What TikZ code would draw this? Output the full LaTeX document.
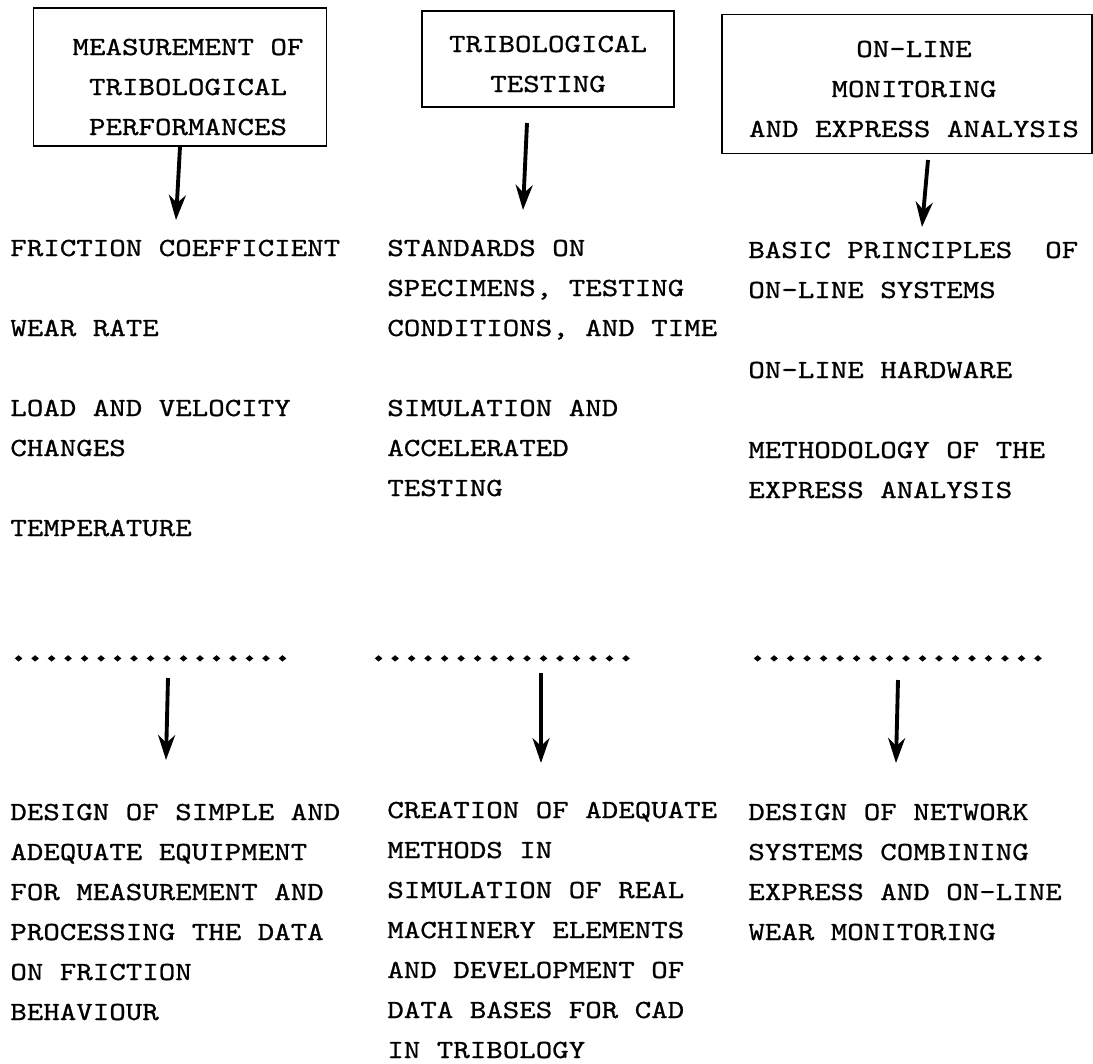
\documentclass[tikz,border=0pt]{standalone}
\usepackage{fontspec}
\usepackage{tikz}
\usetikzlibrary{arrows.meta}
\newfontfamily\typefam{lmmono10-regular.otf}[FakeStretch=1.2,FakeBold=0.8]
\newfontfamily\dotfam{lmmono10-regular.otf}[FakeStretch=1.2,FakeBold=9]
\newcommand{\typer}{\typefam\fontsize{14.9}{22.76}\selectfont}

\begin{document}
\begin{tikzpicture}[x=0.02cm, y=-0.02cm,
  every node/.style={font=\typer},
  head/.style={draw, line width=0.9pt, inner sep=0pt},
  title/.style={align=center, inner sep=0pt},
  item/.style={align=left, anchor=base west, inner sep=0pt},
  dotrow/.style={item, font=\dotfam\fontsize{14.9}{22.76}\selectfont},
  arr/.style={line width=2.2pt, -{Stealth[length=0.5cm, width=0.34cm, inset=0.16cm]}}]
\useasboundingbox (0,0) rectangle (1093,1063);

% headings
\node[head, minimum width=5.86cm, minimum height=2.76cm] (perf) at (180,77) {};
\node[head, minimum width=5.04cm, minimum height=1.92cm] (test) at (548,59) {};
\node[head, minimum width=7.40cm, minimum height=2.78cm] (line) at (907,84) {};
\node[title] (perft) at (188,87) {MEASUREMENT OF\\TRIBOLOGICAL\\PERFORMANCES};
\node[title] (testt) at (548,64) {TRIBOLOGICAL\\TESTING};
\node[title] (linet) at (914,89) {ON-LINE\\MONITORING\\AND EXPRESS ANALYSIS};

% first column (anchor on last line)
\node[item] (fric) at (10,256) {FRICTION COEFFICIENT};
\node[item] (wear) at (10,336) {WEAR RATE};
\node[item] (load) at (10,456) {LOAD AND VELOCITY\\CHANGES};
\node[item] (temp) at (10,536) {TEMPERATURE};
\node[dotrow] (dotsA) at (10,660) {.................};
\node[item] (equip) at (10,1020) {DESIGN OF SIMPLE AND\\ADEQUATE EQUIPMENT\\FOR MEASUREMENT AND\\PROCESSING THE DATA\\ON FRICTION\\BEHAVIOUR};

% second column
\node[item] (stand) at (387,336) {STANDARDS ON\\SPECIMENS, TESTING\\CONDITIONS, AND TIME};
\node[item] (simul) at (387,496) {SIMULATION AND\\ACCELERATED\\TESTING};
\node[dotrow] (dotsB) at (370,660) {................};
\node[item] (meth) at (387,1058) {CREATION OF ADEQUATE\\METHODS IN\\SIMULATION OF REAL\\MACHINERY ELEMENTS\\AND DEVELOPMENT OF\\DATA BASES FOR CAD\\IN TRIBOLOGY};

% third column
\node[item] (basic) at (748,298) {BASIC PRINCIPLES~~OF\\ON-LINE SYSTEMS};
\node[item] (hard) at (748,378) {ON-LINE HARDWARE};
\node[item] (expr) at (748,498) {METHODOLOGY OF THE\\EXPRESS ANALYSIS};
\node[dotrow] (dotsC) at (749,660) {..................};
\node[item] (netw) at (748,940) {DESIGN OF NETWORK\\SYSTEMS COMBINING\\EXPRESS AND ON-LINE\\WEAR MONITORING};

% arrows
\coordinate (a1) at (176,220);
\coordinate (b2) at (527,123);
\coordinate (a2) at (523,210);
\coordinate (b3) at (928,160);
\coordinate (a3) at (922,227);
\coordinate (b4) at (168,678);
\coordinate (a4) at (166,760);
\coordinate (b5) at (541,673);
\coordinate (a5) at (541,763);
\coordinate (b6) at (898,680);
\coordinate (a6) at (896,763);
\draw[arr] (perf.south) -- (a1);
\draw[arr] (b2) -- (a2);
\draw[arr] (b3) -- (a3);
\draw[arr] (b4) -- (a4);
\draw[arr] (b5) -- (a5);
\draw[arr] (b6) -- (a6);
\end{tikzpicture}
\end{document}
